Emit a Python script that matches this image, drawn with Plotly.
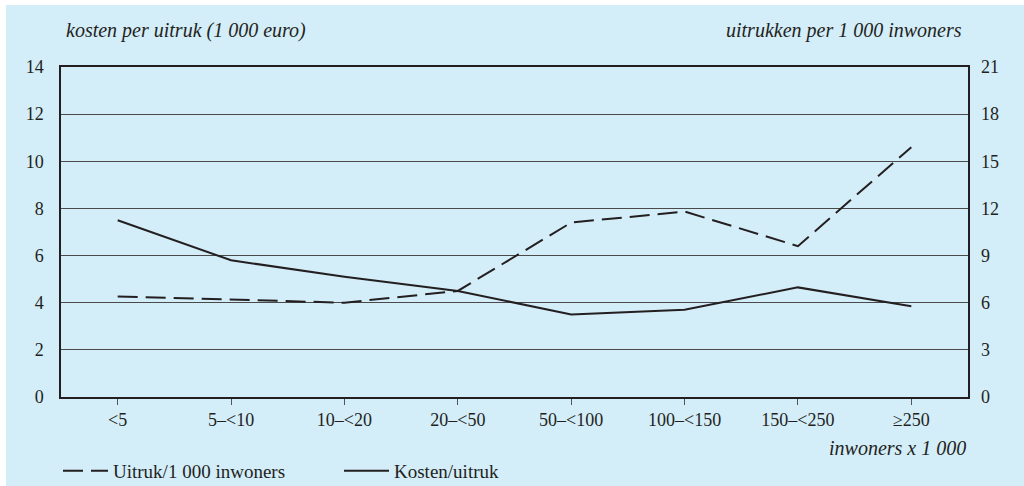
import plotly.graph_objects as go

categories = ["<5", "5–<10", "10–<20", "20–<50", "50–<100", "100–<150", "150–<250", "≥250"]
kosten_per_uitruk = [7.5, 5.8, 5.1, 4.5, 3.5, 3.7, 4.65, 3.85]          # 1 000 euro, left axis
uitruk_per_1000 = [6.4, 6.2, 6.0, 6.75, 11.1, 11.8, 9.6, 15.9]          # right axis

left_ticks = [0, 2, 4, 6, 8, 10, 12, 14]
right_ticks = [0, 3, 6, 9, 12, 15, 18, 21]

BLUE = "#d3edf9"
INK = "#231f20"
FONT = "Liberation Serif"

W, H = 1024, 486
ML, MR, MT, MB = 61, 56, 67, 89
pw, ph = W - ML - MR, H - MT - MB

def px_x(x):
    return (x - ML) / pw

def px_y(y):
    return (H - MB - y) / ph

fig = go.Figure()
fig.add_trace(go.Scatter(
    x=categories, y=uitruk_per_1000, yaxis="y2", mode="lines",
    name="Uitruk/1 000 inwoners",
    line=dict(color=INK, width=2, dash="20px,8px"),
))
fig.add_trace(go.Scatter(
    x=categories, y=kosten_per_uitruk, mode="lines",
    name="Kosten/uitruk",
    line=dict(color=INK, width=2),
))

fig.update_layout(
    width=W, height=H,
    margin=dict(l=ML, r=MR, t=MT, b=MB, autoexpand=False),
    paper_bgcolor="white",
    plot_bgcolor="white",
    font=dict(family=FONT, size=18, color=INK),
    showlegend=True,
    legend=dict(
        orientation="h", x=px_x(58), y=px_y(471), xanchor="left", yanchor="middle",
        bgcolor="rgba(0,0,0,0)", font=dict(family=FONT, size=19, color=INK),
        traceorder="normal", itemwidth=45, entrywidth=221, entrywidthmode="pixels",
    ),
    xaxis=dict(
        type="category", range=[-0.5, 7.5],
        showline=True, linecolor=INK, linewidth=1.5, mirror=True,
        ticks="outside", ticklen=6, tickcolor="#555", tickwidth=1,
        showgrid=False, zeroline=False,
        tickfont=dict(family=FONT, size=18, color=INK),
    ),
    yaxis=dict(
        range=[0, 14], tickvals=left_ticks,
        showline=True, linecolor=INK, linewidth=1.5, mirror=True,
        showgrid=True, gridcolor="#4a4a4a", gridwidth=1,
        zeroline=False, ticks="", ticklabelstandoff=12,
        tickfont=dict(family=FONT, size=18, color=INK),
    ),
    yaxis2=dict(
        range=[0, 21], tickvals=right_ticks, overlaying="y", side="right",
        showgrid=False, zeroline=False, showline=False, ticks="",
        ticklabelstandoff=12,
        tickfont=dict(family=FONT, size=18, color=INK),
    ),
    shapes=[
        dict(type="rect", xref="paper", yref="paper", layer="below",
             x0=px_x(6), x1=px_x(1030), y0=px_y(5), y1=px_y(490),
             fillcolor=BLUE, line=dict(width=0)),
    ],
    annotations=[
        dict(text="kosten per uitruk (1 000 euro)", xref="paper", yref="paper",
             x=px_x(64), y=px_y(31), xanchor="left", yanchor="middle", showarrow=False,
             font=dict(family=FONT, size=20, color=INK, style="italic")),
        dict(text="uitrukken per 1 000 inwoners", xref="paper", yref="paper",
             x=px_x(964), y=px_y(31), xanchor="right", yanchor="middle", showarrow=False,
             font=dict(family=FONT, size=20, color=INK, style="italic")),
        dict(text="inwoners x 1 000", xref="paper", yref="paper",
             x=px_x(968), y=px_y(448), xanchor="right", yanchor="middle", showarrow=False,
             font=dict(family=FONT, size=20, color=INK, style="italic")),
    ],
)

fig.write_html("out.html", config={"displayModeBar": False},
               post_script="document.body.style.margin='0';")
